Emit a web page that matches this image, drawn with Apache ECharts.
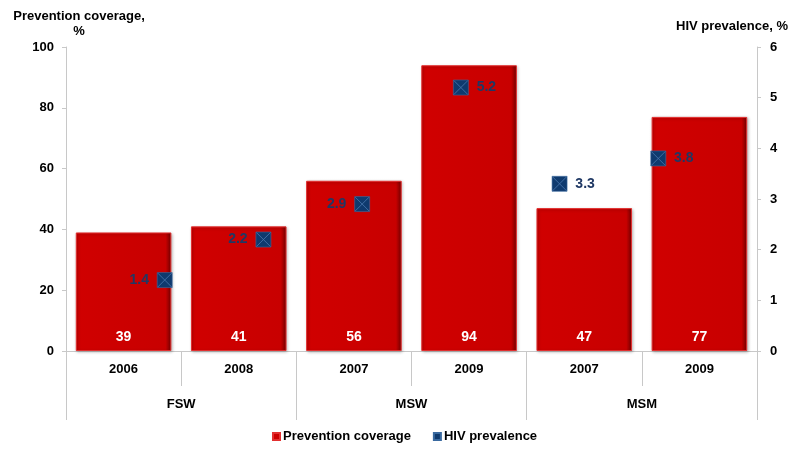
<!DOCTYPE html>
<html>
<head>
<meta charset="utf-8">
<script src="https://cdn.jsdelivr.net/npm/echarts@6/dist/echarts.min.js"></script>
<style>
  html, body { margin: 0; padding: 0; background: #fff; }
  #chart { width: 789px; height: 450px; }
</style>
</head>
<body>
<div id="chart"></div>
<script>
// data
var years = ['2006', '2008', '2007', '2009', '2007', '2009'];
var groups = ['FSW', 'MSW', 'MSM'];
var coverage = [39, 41, 56, 94, 47, 77];
var prevalence = [1.4, 2.2, 2.9, 5.2, 3.3, 3.8];
var prevalencePos = [1, 2, 3, 4, 5, 6];
var prevalenceLabelSide = ['left', 'left', 'left', 'right', 'right', 'right'];

var font = 'Liberation Sans, Arial, sans-serif';
var gridGray = '#c8c8c8';

var chart = echarts.init(document.getElementById('chart'));

// bevel-ish look: light left edge, dark right edge
var barColor = new echarts.graphic.LinearGradient(0, 0, 1, 0, [
    { offset: 0, color: '#b80000' },
    { offset: 0.03, color: '#d00000' },
    { offset: 0.94, color: '#c80000' },
    { offset: 1, color: '#6e0000' }
]);

var scatterData = prevalence.map(function (v, i) {
    return {
        value: [prevalencePos[i], v],
        label: { position: prevalenceLabelSide[i] }
    };
});

var option = {
    backgroundColor: '#ffffff',
    textStyle: { fontFamily: font },
    grid: { left: 66, right: 32, top: 47, bottom: 99, containLabel: false, outerBoundsMode: 'none' },
    legend: {
        bottom: 2,
        left: 267,
        data: ['Prevention coverage', 'HIV prevalence'],
        icon: 'rect',
        itemWidth: 7,
        itemHeight: 7,
        itemGap: 22,
        textStyle: { fontFamily: font, fontWeight: 'bold', fontSize: 13, color: '#000', padding: [0, 0, 0, -2] }
    },
    xAxis: [{
        type: 'category',
        data: years,
        position: 'bottom',
        axisLine: { show: true, lineStyle: { color: gridGray } },
        axisTick: { show: true, interval: 0, alignWithLabel: false, length: 35, lineStyle: { color: gridGray } },
        axisLabel: { margin: 12, fontFamily: font, fontWeight: 'bold', fontSize: 13, color: '#000' }
    }, {
        type: 'category',
        data: groups,
        position: 'bottom',
        axisLine: { show: false },
        axisTick: { show: true, interval: 0, alignWithLabel: false, length: 69, lineStyle: { color: gridGray } },
        axisLabel: { margin: 47, fontFamily: font, fontWeight: 'bold', fontSize: 13, color: '#000' }
    }, {
        type: 'value',
        show: false,
        position: 'top',
        min: 0,
        max: 7
    }],
    yAxis: [{
        type: 'value',
        min: 0,
        max: 100,
        interval: 20,
        name: 'Prevention coverage,\n%',
        nameLocation: 'end',
        nameGap: 8,
        nameTextStyle: { fontFamily: font, fontWeight: 'bold', fontSize: 13, color: '#000', align: 'center', padding: [0, 0, 0, 26], lineHeight: 15 },
        axisLine: { show: true, lineStyle: { color: gridGray } },
        axisTick: { show: true, length: 4, lineStyle: { color: gridGray } },
        axisLabel: { margin: 12, fontFamily: font, fontWeight: 'bold', fontSize: 13, color: '#000' },
        splitLine: { show: false }
    }, {
        type: 'value',
        min: 0,
        max: 6,
        interval: 1,
        position: 'right',
        name: 'HIV prevalence, %',
        nameLocation: 'end',
        nameGap: 14,
        nameTextStyle: { fontFamily: font, fontWeight: 'bold', fontSize: 13, color: '#000', align: 'center', padding: [0, 50, 0, 0] },
        axisLine: { show: true, lineStyle: { color: gridGray } },
        axisTick: { show: true, length: 4, lineStyle: { color: gridGray } },
        axisLabel: { margin: 13, fontFamily: font, fontWeight: 'bold', fontSize: 13, color: '#000' },
        splitLine: { show: false }
    }],
    series: [{
        name: 'Prevention coverage',
        type: 'bar',
        xAxisIndex: 0,
        yAxisIndex: 0,
        data: coverage,
        barWidth: '83%',
        itemStyle: {
            color: barColor,
            borderColor: '#e23030',
            borderWidth: 1,
            shadowColor: 'rgba(0,0,0,0.25)',
            shadowBlur: 3,
            shadowOffsetX: 1,
            shadowOffsetY: 1
        },
        label: {
            show: true,
            position: 'insideBottom',
            distance: 7,
            color: '#fff',
            fontFamily: font,
            fontWeight: 'bold',
            fontSize: 14
        }
    }, {
        name: 'HIV prevalence',
        type: 'scatter',
        xAxisIndex: 2,
        yAxisIndex: 1,
        data: scatterData,
        symbol: 'rect',
        symbolSize: 15,
        itemStyle: { color: '#0f3a6e', borderColor: '#3a6aa0', borderWidth: 0.6, opacity: 1 },
        label: {
            show: true,
            distance: 8,
            color: '#1f3864',
            fontFamily: font,
            fontWeight: 'bold',
            fontSize: 14
        },
        z: 5
    }, {
        name: 'HIV cross',
        type: 'scatter',
        xAxisIndex: 2,
        yAxisIndex: 1,
        data: scatterData.map(function (d) { return d.value; }),
        symbol: 'path://M0,0L10,10M10,0L0,10',
        symbolSize: 14,
        silent: true,
        itemStyle: { color: 'none', borderColor: '#4a78b0', borderWidth: 0.8, opacity: 1 },
        z: 6
    }]
};

chart.setOption(option);
</script>
</body>
</html>
